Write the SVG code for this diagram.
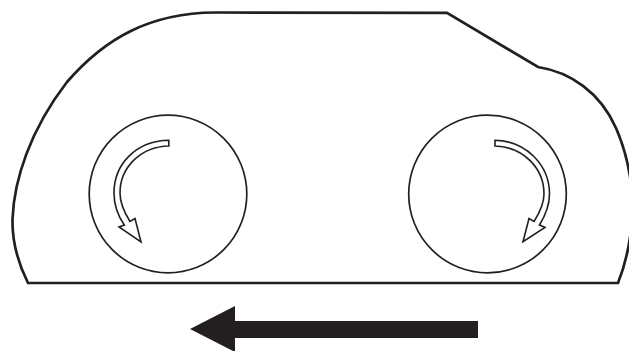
<svg xmlns="http://www.w3.org/2000/svg" width="629" height="351" viewBox="0 0 629 351">
<style>
.outline{fill:none;stroke:#231f20;stroke-width:2.700;stroke-linejoin:miter}
.disc{fill:none;stroke:#231f20;stroke-width:1.700}
.turn{fill:#fff;stroke:#231f20;stroke-width:1.600;stroke-linejoin:miter}
.move{fill:#231f20}
</style>
<rect width="629" height="351" fill="#fff"/>
<g id="body"><path class="outline" d="M28 283C18 263 12 243 12.500 219C14 180 30 130 67 82C105 38 150 13 215 12.500L447 12.800L538 67C570 72 600 92 616 128C630 160 634 195 632 220C630 245 624 268 618 283Z"/></g>
<g id="left-disc"><circle class="disc" cx="168" cy="194" r="78.800"/>
<path class="turn" d="M168.800 140.300C135 141 114 165 114 193C114 205 118 216 124.300 225L119 227L141 242L135 218.500L130 221.500C124 212 120 203 120 193C120 168 140 146.800 168.800 146Z"/></g>
<g id="right-disc"><circle class="disc" cx="487.500" cy="194" r="78.800"/>
<path class="turn" d="M495 140.300C526 141 549.500 165 549.500 194C549.500 206 545 216 539.500 225L545 227.300L523 241.700L529 218.500L534 221.500C540 212 544 204 544 194C544 169 524 146.800 495 146Z"/></g>
<g id="direction"><path class="move" d="M478 321V338H235V352L190 329L235 306V321Z"/></g>
</svg>
